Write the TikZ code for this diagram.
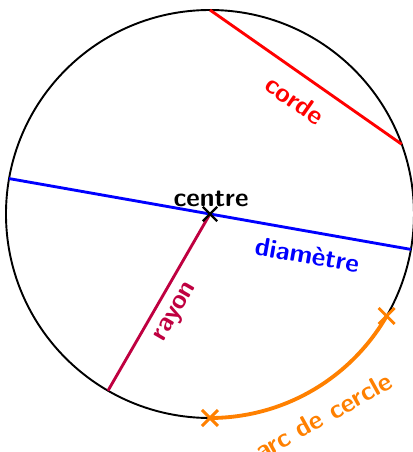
\documentclass[tikz,border=0pt]{standalone}
\usetikzlibrary{shapes.misc}
\begin{document}
\tikzset{
  lbl/.style={font=\sffamily\bfseries\fontsize{11}{13}\selectfont, inner sep=0pt},
  markx/.style={cross out, draw, minimum size=5pt, inner sep=0pt, line width=1pt},
  seg/.style={line width=1.2pt},
}
\begin{tikzpicture}
\useasboundingbox (-3.088,-3.5) rectangle (2.985,3.147);
\node[circle, draw, line width=0.8pt, minimum size=6cm, inner sep=0pt, outer sep=0pt] (c) at (0,0) {};
\coordinate (O) at (0,0);
\draw[seg, red] (c.90) -- (c.20);
\draw[seg, blue] (c.170) -- (c.350);
\draw[seg, purple] (O) -- (c.240);
\draw[orange, line width=1.6pt] (c.270) arc[start angle=270, end angle=330, radius=3cm];
\node[markx, black] (xo) at (O) {};
\node[markx, orange, minimum size=5.5pt, line width=1.2pt] (xa) at (c.270) {};
\node[markx, orange, minimum size=5.5pt, line width=1.2pt] (xb) at (c.330) {};
\node[lbl, red, rotate=-35] (lcorde) at (1.25,1.676) {corde};
\node[lbl, black] (lcentre) at (0.015,0.22) {centre};
\node[lbl, blue, rotate=-10] (ldiam) at (1.43,-0.6) {diamètre};
\node[lbl, purple, rotate=60] (lrayon) at (-0.49,-1.45) {rayon};
\node[lbl, orange, rotate=29] (larc) at (1.67,-2.97) {arc de cercle};
\end{tikzpicture}
\end{document}
